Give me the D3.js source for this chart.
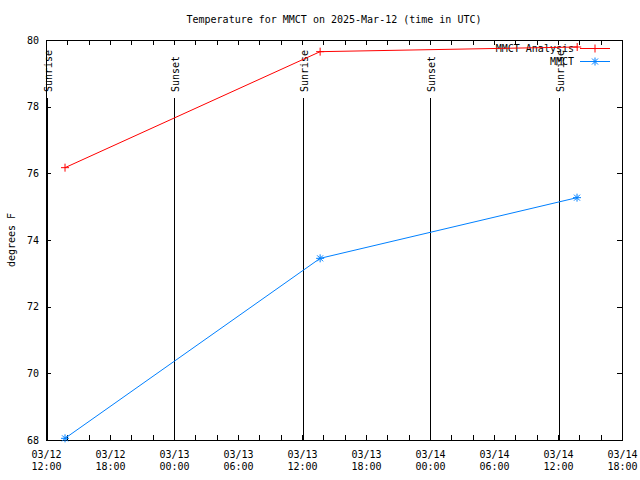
<!DOCTYPE html>
<html>
<head>
<meta charset="utf-8">
<script src="https://cdn.jsdelivr.net/npm/d3@7"></script>
<style>
  body { margin: 0; background: #fff; }
  svg { display: block; }
  text { font-family: "DejaVu Sans Mono", monospace; font-size: 10px; fill: #000; }
</style>
</head>
<body>
<svg id="chart" width="640" height="480"></svg>
<script>
// ---- data ----
const titleText = "Temperature for MMCT on 2025-Mar-12 (time in UTC)";
const yLabel = "degrees F";
const analysisTimes = ["2025-03-12T13:47", "2025-03-13T13:42", "2025-03-14T13:48"];
const analysisValues = [76.17, 79.65, 79.79];
const obsTimes = ["2025-03-12T13:47", "2025-03-13T13:42", "2025-03-14T13:47"];
const obsValues = [68.05, 73.45, 75.27];
const sunEventTimes = ["2025-03-12T12:06", "2025-03-13T00:00", "2025-03-13T12:06", "2025-03-14T00:00", "2025-03-14T12:06"];
const sunEventLabels = ["Sunrise", "Sunset", "Sunrise", "Sunset", "Sunrise"];
const seriesNames = ["MMCT Analysis", "MMCT"];
const seriesColors = ["#ff0000", "#0080ff"];
const xDomain = ["2025-03-12T12:00", "2025-03-14T18:00"];
const yTicks = [68, 70, 72, 74, 76, 78, 80];

// ---- setup ----
const parse = d3.utcParse("%Y-%m-%dT%H:%M");
const svg = d3.select("#chart");
const L = 46, R = 622, T = 40, B = 440;

const x = d3.scaleUtc().domain(xDomain.map(parse)).range([L, R]);
const y = d3.scaleLinear().domain([68, 80]).range([B, T]);

// title
svg.append("text").attr("x", 334).attr("y", 23).attr("text-anchor", "middle").text(titleText);

// y label
svg.append("text")
  .attr("transform", "translate(15,240) rotate(-90)")
  .attr("text-anchor", "middle")
  .text(yLabel);

// tick marks (inner, all four sides)
const minorTicks = d3.utcHour.every(2);
const majorTicks = d3.utcHour.every(6);

function stripDomain(g) { g.select(".domain").remove(); }

svg.append("g").attr("transform", `translate(0,${B})`)
  .call(d3.axisBottom(x).ticks(minorTicks).tickSize(-5).tickFormat(""))
  .call(stripDomain);
svg.append("g").attr("transform", `translate(0,${T})`)
  .call(d3.axisTop(x).ticks(minorTicks).tickSize(-5).tickFormat(""))
  .call(stripDomain);
svg.append("g").attr("transform", `translate(${L},0)`)
  .call(d3.axisLeft(y).tickValues(yTicks).tickSize(-5).tickFormat(""))
  .call(stripDomain);
svg.append("g").attr("transform", `translate(${R},0)`)
  .call(d3.axisRight(y).tickValues(yTicks).tickSize(-5).tickFormat(""))
  .call(stripDomain);
svg.selectAll(".tick line").attr("stroke", "#000").attr("shape-rendering", "crispEdges");

// x labels (two lines)
const fmtDate = d3.utcFormat("%m/%d"), fmtTime = d3.utcFormat("%H:%M");
const xl = svg.append("g").attr("transform", `translate(0,${B})`)
  .call(d3.axisBottom(x).ticks(majorTicks).tickSize(0).tickFormat(""))
  .call(stripDomain);
xl.selectAll(".tick text").remove();
xl.selectAll(".tick").each(function(d) {
  const t = d3.select(this).append("text").attr("text-anchor", "middle")
    .attr("font-family", "DejaVu Sans Mono").attr("font-size", 10).attr("fill", "#000");
  t.append("tspan").attr("x", 0).attr("y", 18).text(fmtDate(d));
  t.append("tspan").attr("x", 0).attr("y", 30).text(fmtTime(d));
});

// y labels
const yl = svg.append("g").attr("transform", `translate(${L},0)`)
  .call(d3.axisLeft(y).tickValues(yTicks).tickSize(0).tickPadding(7).tickFormat(d3.format("d")))
  .call(stripDomain);
yl.selectAll(".tick text").attr("font-family", "DejaVu Sans Mono").attr("font-size", 10).attr("fill", "#000");

// sun events
sunEventTimes.forEach((s, i) => {
  const xp = Math.round(x(parse(s))) + 0.5;
  svg.append("line").attr("x1", xp).attr("x2", xp).attr("y1", 98).attr("y2", B)
    .attr("stroke", "#000").attr("stroke-width", 1);
  svg.append("text").attr("transform", `translate(${xp + 4.5},92) rotate(-90)`)
    .attr("text-anchor", "start").text(sunEventLabels[i]);
});

// border
svg.append("rect").attr("x", L + 0.5).attr("y", T + 0.5).attr("width", R - L).attr("height", B - T)
  .attr("fill", "none").attr("stroke", "#000").attr("stroke-width", 1);

// legend
const legY = [48, 61];
seriesNames.forEach((n, i) => {
  svg.append("text").attr("x", 574).attr("y", legY[i] + 4).attr("text-anchor", "end").text(n);
  svg.append("line").attr("x1", 580).attr("x2", 610).attr("y1", legY[i] + 0.5).attr("y2", legY[i] + 0.5)
    .attr("stroke", seriesColors[i]).attr("stroke-width", 1);
});

// markers
function plus(g, cx, cy, c) {
  g.append("path").attr("d", `M${cx - 4},${cy}H${cx + 4}M${cx},${cy - 4}V${cy + 4}`)
    .attr("stroke", c).attr("stroke-width", 1).attr("fill", "none");
}
function star(g, cx, cy, c) {
  g.append("path").attr("d",
    `M${cx - 4},${cy}H${cx + 4}M${cx},${cy - 4}V${cy + 4}M${cx - 3},${cy - 3}L${cx + 3},${cy + 3}M${cx - 3},${cy + 3}L${cx + 3},${cy - 3}`)
    .attr("stroke", c).attr("stroke-width", 1).attr("fill", "none");
}
plus(svg, 595, legY[0] + 0.5, seriesColors[0]);
star(svg, 595, legY[1] + 0.5, seriesColors[1]);

// series
const line = d3.line().x(d => x(d[0])).y(d => y(d[1]));
const s1 = analysisTimes.map((t, i) => [parse(t), analysisValues[i]]);
const s2 = obsTimes.map((t, i) => [parse(t), obsValues[i]]);
svg.append("path").datum(s1).attr("d", line).attr("fill", "none").attr("stroke", seriesColors[0]).attr("stroke-width", 1);
svg.append("path").datum(s2).attr("d", line).attr("fill", "none").attr("stroke", seriesColors[1]).attr("stroke-width", 1);
s1.forEach(d => plus(svg, x(d[0]), y(d[1]), seriesColors[0]));
s2.forEach(d => star(svg, x(d[0]), y(d[1]), seriesColors[1]));
</script>
</body>
</html>
